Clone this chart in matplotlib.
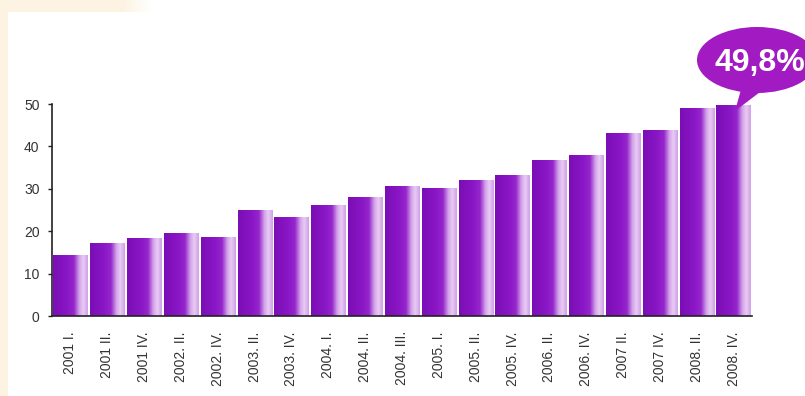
import matplotlib
matplotlib.use("Agg")
import matplotlib.pyplot as plt
import numpy as np
from matplotlib.colors import LinearSegmentedColormap
from matplotlib.patches import Ellipse, Polygon, Rectangle

periods = ["2001 I.", "2001 II.", "2001 IV.", "2002. II.", "2002. IV.",
           "2003. II.", "2003. IV.", "2004. I.", "2004. II.", "2004. III.",
           "2005. I.", "2005. II.", "2005. IV.", "2006. II.", "2006. IV.",
           "2007 II.", "2007 IV.", "2008. II.", "2008. IV."]
values = [14.4, 17.2, 18.4, 19.6, 18.6, 25.0, 23.3, 26.2, 28.0, 30.6,
          30.2, 32.0, 33.3, 36.8, 38.0, 43.2, 43.9, 49.0, 49.8]
yticks = [0, 10, 20, 30, 40, 50]
callout = "49,8%"

plt.rcParams["font.family"] = ["Liberation Sans", "DejaVu Sans"]

fig = plt.figure(figsize=(8.05, 3.96), dpi=100)
fig.patch.set_facecolor("white")

# cream frame in the top-left corner
bg = fig.add_axes([0, 0, 1, 1], zorder=-5)
bg.set_xlim(0, 805)
bg.set_ylim(396, 0)
bg.axis("off")
cream = "#fdf3e2"
bg.add_patch(Rectangle((0, 0), 8, 396, color=cream, lw=0))
bg.add_patch(Rectangle((0, 0), 122, 12, color=cream, lw=0))
fade = np.linspace(1, 0, 30)
for i, a in enumerate(fade):
    bg.add_patch(Rectangle((122 + i, 0), 1, 12, color=cream, alpha=a, lw=0))

ax = fig.add_axes([52 / 805, 80 / 396, 700 / 805, 212 / 396])
x = np.arange(len(values))
bars = ax.bar(x, values, width=0.93, color="none", edgecolor="none")

grad = LinearSegmentedColormap.from_list("bar", [
    (0.0, "#7a0eb4"), (0.40, "#8a16c6"), (0.60, "#9526cc"),
    (0.76, "#d4a6ea"), (0.87, "#e8cbf4"), (1.0, "#cf9fe6")])
strip = np.linspace(0, 1, 256).reshape(1, -1)
for b in bars:
    x0, w, h = b.get_x(), b.get_width(), b.get_height()
    im = ax.imshow(strip, cmap=grad, aspect="auto",
                   extent=(x0, x0 + w, 0, h), zorder=2)
    im.set_clip_path(b)

ax.set_xlim(-0.5, len(values) - 0.5)
ax.set_ylim(0, 50)
ax.set_yticks(yticks)
ax.set_xticks(x)
ax.set_xticklabels(periods, rotation=90, va="top", ha="center")
ax.tick_params(axis="x", length=0, pad=11, labelsize=10, labelcolor="#333333")
ax.tick_params(axis="y", length=3, width=1, pad=6, labelsize=10,
               labelcolor="#333333", color="#222222")
for s in ["top", "right"]:
    ax.spines[s].set_visible(False)
for s in ["left", "bottom"]:
    ax.spines[s].set_color("#222222")
    ax.spines[s].set_linewidth(1.2)

# speech bubble over the last bar
ov = fig.add_axes([0, 0, 1, 1], zorder=5)
ov.set_xlim(0, 805)
ov.set_ylim(396, 0)
ov.axis("off")
bubble = "#a21bc2"
ov.add_patch(Polygon([(742, 86), (768, 86), (735, 111)], closed=True,
                     color=bubble, lw=0))
ov.add_patch(Ellipse((757, 60), 120, 66, color=bubble, lw=0))
ov.text(714, 63, callout, color="white", fontsize=23, fontweight="bold",
        ha="left", va="center")

fig.savefig("out.png", dpi=100)
